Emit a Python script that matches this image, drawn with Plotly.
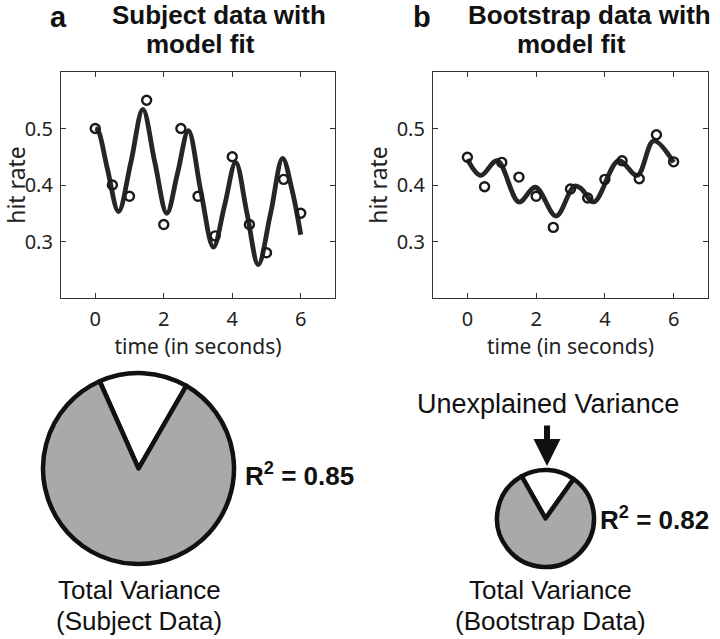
import plotly.graph_objects as go

W, H = 720, 639

# ---- data ----
time_pts = [0, 0.5, 1, 1.5, 2, 2.5, 3, 3.5, 4, 4.5, 5, 5.5, 6]
subject_hits = [0.50, 0.40, 0.38, 0.55, 0.33, 0.50, 0.38, 0.31, 0.45, 0.33, 0.28, 0.41, 0.35]
bootstrap_hits = [0.449, 0.397, 0.44, 0.414, 0.38, 0.325, 0.393, 0.377, 0.41, 0.443, 0.411, 0.489, 0.441]

subject_fit_t = [0, 0.08, 0.35, 0.68, 1.04, 1.39, 1.74, 2.09, 2.4, 2.72, 3.08, 3.45, 3.78, 4.1, 4.43, 4.76, 5.12, 5.47, 5.75, 6.0]
subject_fit_y = [0.50, 0.497, 0.43, 0.353, 0.44, 0.534, 0.44, 0.35, 0.42, 0.496, 0.39, 0.29, 0.365, 0.44, 0.35, 0.259, 0.35, 0.447, 0.39, 0.312]

boot_fit_t = [0, 0.39, 0.87, 1.5, 1.98, 2.58, 3.1, 3.3, 3.68, 4.4, 4.94, 5.42, 6.0]
boot_fit_y = [0.446, 0.417, 0.443, 0.37, 0.396, 0.345, 0.398, 0.394, 0.37, 0.443, 0.417, 0.478, 0.44]

r_squared = [0.85, 0.82]
pie_labels = ["Unexplained", "Explained"]
x_ticks = [0, 2, 4, 6]
y_ticks = [0.3, 0.4, 0.5]

TXT = "#222222"
HEAD = "Liberation Sans, Arial, Helvetica, sans-serif"
BODY = "Noto Sans, Open Sans, sans-serif"

def px(x):
    return x / W

def py(y):
    return 1 - y / H

fig = go.Figure()

for i, (yv, ft, fy) in enumerate([(subject_hits, subject_fit_t, subject_fit_y),
                                   (bootstrap_hits, boot_fit_t, boot_fit_y)]):
    xa = "x" if i == 0 else "x2"
    ya = "y" if i == 0 else "y2"
    fig.add_trace(go.Scatter(x=ft, y=fy, mode="lines", line=dict(color="#262626", width=4.8, shape="spline", smoothing=1.0),
                             xaxis=xa, yaxis=ya, showlegend=False, hoverinfo="skip"))
    fig.add_trace(go.Scatter(x=time_pts, y=yv, mode="markers",
                             marker=dict(symbol="circle-open", size=9, color="#1a1a1a", line=dict(width=2.4, color="#1a1a1a")),
                             xaxis=xa, yaxis=ya, showlegend=False))

axis_common = dict(showline=True, linecolor="#333", linewidth=1.2, mirror="ticks", ticks="inside", ticklen=5,
                   tickcolor="#333", showgrid=False, zeroline=False,
                   tickfont=dict(family=BODY, size=20, color=TXT))
xdom1 = [px(61), px(335)]
xdom2 = [px(433), px(708)]
ydom = [py(298), py(72)]
xt = dict(text="time (in seconds)", font=dict(family=BODY, size=21, color=TXT), standoff=0)
yt = dict(text="hit rate", font=dict(family=BODY, size=23, color=TXT), standoff=2)

fig.update_layout(
    xaxis=dict(domain=xdom1, anchor="y", range=[-1, 7], tickvals=x_ticks, ticklabelstandoff=3, title=xt, **axis_common),
    yaxis=dict(domain=ydom, anchor="x", range=[0.2, 0.6], tickvals=y_ticks, ticklabelstandoff=3, title=yt, **axis_common),
    xaxis2=dict(domain=xdom2, anchor="y2", range=[-1, 7], tickvals=x_ticks, ticklabelstandoff=3, title=xt, **axis_common),
    yaxis2=dict(domain=ydom, anchor="x2", range=[0.2, 0.6], tickvals=y_ticks, ticklabelstandoff=3, title=yt, **axis_common),
)

# pies
pie_specs = [
    (r_squared[0], [px(43), px(234)], [py(564), py(373)]),
    (r_squared[1], [px(497), px(594)], [py(567), py(470)]),
]
for r2, dx, dy in pie_specs:
    unexpl = round(1 - r2, 2)
    ang = unexpl * 360
    rot = -(ang / 2) + 3
    fig.add_trace(go.Pie(values=[unexpl, r2], labels=pie_labels, sort=False, direction="clockwise",
                         rotation=rot, domain=dict(x=dx, y=dy),
                         marker=dict(colors=["#ffffff", "#a9a9a9"], line=dict(color="#111", width=4.5)),
                         textinfo="none", hoverinfo="label+value", showlegend=False))

ann = []
# panel letters and titles
ann.append(dict(x=px(58), y=py(17), text="<b>a</b>", font=dict(family=HEAD, size=29, color="#111")))
ann.append(dict(x=px(422), y=py(17), text="<b>b</b>", font=dict(family=HEAD, size=29, color="#111")))
ann.append(dict(x=px(219), y=py(15), text="<b>Subject data with</b>", font=dict(family=HEAD, size=26, color="#111")))
ann.append(dict(x=px(200), y=py(44), text="<b>model fit</b>", font=dict(family=HEAD, size=26, color="#111")))
ann.append(dict(x=px(589), y=py(15), text="<b>Bootstrap data with</b>", font=dict(family=HEAD, size=26, color="#111")))
ann.append(dict(x=px(571), y=py(44), text="<b>model fit</b>", font=dict(family=HEAD, size=26, color="#111")))
# R^2 labels
ann.append(dict(x=px(243), y=py(474), xanchor="left", text="<b>R<sup>2</sup> = %.2f</b>" % r_squared[0],
                font=dict(family=HEAD, size=26, color="#111")))
ann.append(dict(x=px(598), y=py(518), xanchor="left", text="<b>R<sup>2</sup> = %.2f</b>" % r_squared[1],
                font=dict(family=HEAD, size=26, color="#111")))
# Total variance labels
ann.append(dict(x=px(139), y=py(590), text="Total Variance", font=dict(family=HEAD, size=26, color="#111")))
ann.append(dict(x=px(139), y=py(621), text="(Subject Data)", font=dict(family=HEAD, size=26, color="#111")))
ann.append(dict(x=px(550), y=py(590), text="Total Variance", font=dict(family=HEAD, size=26, color="#111")))
ann.append(dict(x=px(550), y=py(621), text="(Bootstrap Data)", font=dict(family=HEAD, size=26, color="#111")))
ann.append(dict(x=px(548), y=py(404), text="Unexplained Variance", font=dict(family=HEAD, size=27, color="#111")))
for a in ann:
    a.update(xref="paper", yref="paper", showarrow=False)
    a.setdefault("xanchor", "center")
    a.setdefault("yanchor", "middle")
# arrow
ann.append(dict(xref="paper", yref="paper", x=px(547), y=py(466), ax=0, ay=-42, axref="pixel", ayref="pixel",
                showarrow=True, arrowhead=2, arrowsize=0.9, arrowwidth=6, arrowcolor="#111", text=""))

fig.update_layout(annotations=ann, width=W, height=H, margin=dict(l=0, r=0, t=0, b=0),
                  paper_bgcolor="white", plot_bgcolor="white", showlegend=False)

fig.write_html("out.html", config={"displayModeBar": False},
               post_script="document.body.style.margin='0px';document.body.style.overflow='hidden';")
